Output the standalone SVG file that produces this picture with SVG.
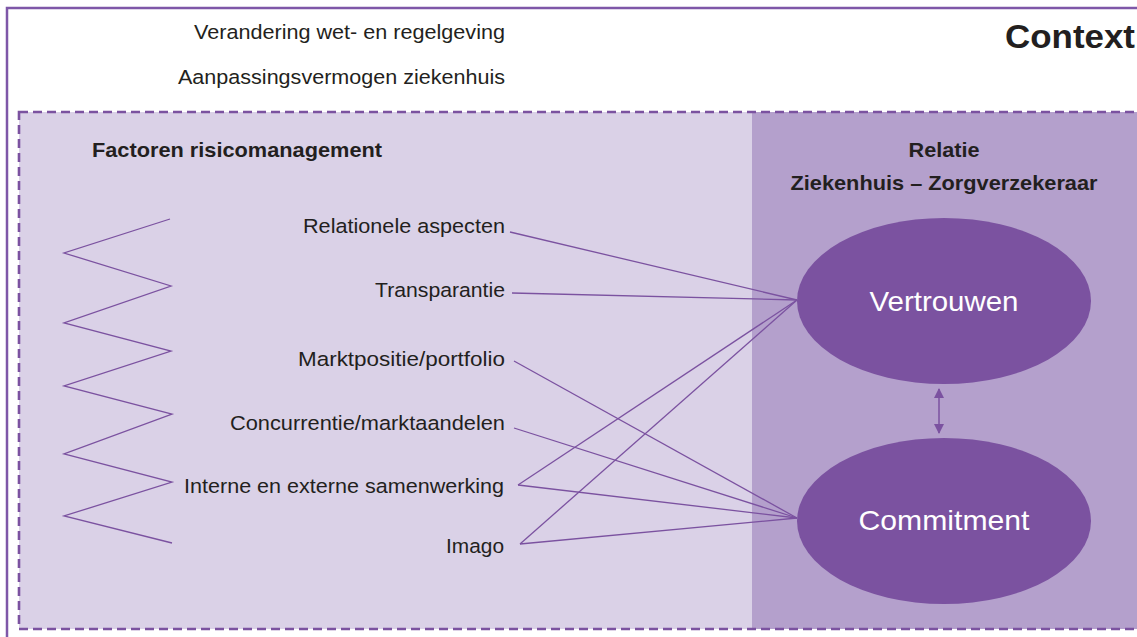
<svg xmlns="http://www.w3.org/2000/svg" width="1137" height="637" viewBox="0 0 1137 637">
<style>
.lbl{font-family:"Liberation Sans",Arial,sans-serif;font-size:20.5px;fill:#231f20}
.b{font-weight:bold}
.ell{fill:#7b52a0}
.et{font-family:"Liberation Sans",Arial,sans-serif;font-size:28px;fill:#ffffff;text-anchor:middle}
.con{stroke:#7b52a0;stroke-width:1.3;fill:none}
</style>
<defs>
<marker id="ah" viewBox="0 0 10 10" refX="9" refY="5" markerWidth="10" markerHeight="11" markerUnits="userSpaceOnUse" orient="auto-start-reverse">
<path d="M0,0 L10,5 L0,10 z" fill="#7b52a0"/>
</marker>
</defs>
<rect x="0" y="0" width="1137" height="637" fill="#ffffff"/>
<g id="context">
<rect x="7" y="8" width="1160" height="660" fill="none" stroke="#7e57a8" stroke-width="2.5"/>
<text class="lbl b" x="1135" y="48" text-anchor="end" style="font-size:33px" textLength="130" lengthAdjust="spacingAndGlyphs">Context</text>
<text class="lbl" x="505" y="39" text-anchor="end" textLength="311" lengthAdjust="spacingAndGlyphs">Verandering wet- en regelgeving</text>
<text class="lbl" x="505" y="84" text-anchor="end" textLength="327" lengthAdjust="spacingAndGlyphs">Aanpassingsvermogen ziekenhuis</text>
</g>
<g id="factoren">
<rect x="19" y="112" width="733" height="517" fill="#dad1e7"/>
<text class="lbl b" x="92" y="157" textLength="290" lengthAdjust="spacingAndGlyphs">Factoren risicomanagement</text>
<polyline class="con" points="170,219 64,253 171,286 64,323 171,351 64,386 172,414 64,454 172,482 64,516 172,543"/>
<text class="lbl" x="505" y="233" text-anchor="end" textLength="202" lengthAdjust="spacingAndGlyphs">Relationele aspecten</text>
<text class="lbl" x="505" y="297" text-anchor="end" textLength="130" lengthAdjust="spacingAndGlyphs">Transparantie</text>
<text class="lbl" x="505" y="366" text-anchor="end" textLength="207" lengthAdjust="spacingAndGlyphs">Marktpositie/portfolio</text>
<text class="lbl" x="505" y="430" text-anchor="end" textLength="275" lengthAdjust="spacingAndGlyphs">Concurrentie/marktaandelen</text>
<text class="lbl" x="504" y="493" text-anchor="end" textLength="320" lengthAdjust="spacingAndGlyphs">Interne en externe samenwerking</text>
<text class="lbl" x="504" y="553" text-anchor="end" textLength="58" lengthAdjust="spacingAndGlyphs">Imago</text>
</g>
<g id="relatie">
<rect x="752" y="112" width="400" height="517" fill="#b4a0cc"/>
<text class="lbl b" x="944" y="157" text-anchor="middle" textLength="71" lengthAdjust="spacingAndGlyphs">Relatie</text>
<text class="lbl b" x="944" y="190" text-anchor="middle" textLength="307" lengthAdjust="spacingAndGlyphs">Ziekenhuis – Zorgverzekeraar</text>
</g>
<rect x="19" y="112" width="1160" height="517" fill="none" stroke="#7b52a0" stroke-width="2.6" stroke-dasharray="9,5"/>
<g id="vertrouwen">
<ellipse class="ell" cx="944" cy="301" rx="147" ry="83"/>
<text class="et" x="944" y="311" textLength="149" lengthAdjust="spacingAndGlyphs">Vertrouwen</text>
</g>
<g id="commitment">
<ellipse class="ell" cx="944" cy="521" rx="147" ry="83"/>
<text class="et" x="944" y="530" textLength="171" lengthAdjust="spacingAndGlyphs">Commitment</text>
</g>
<g id="connectors">
<line class="con" x1="510" y1="232" x2="797" y2="300"/>
<line class="con" x1="512" y1="293" x2="797" y2="300"/>
<line class="con" x1="514" y1="361" x2="797" y2="518"/>
<line class="con" x1="514" y1="428" x2="797" y2="518"/>
<line class="con" x1="518" y1="485" x2="797" y2="300"/>
<line class="con" x1="518" y1="485" x2="797" y2="518"/>
<line class="con" x1="520" y1="544" x2="797" y2="300"/>
<line class="con" x1="520" y1="544" x2="797" y2="518"/>
<line x1="939" y1="389" x2="939" y2="433" stroke="#7b52a0" stroke-width="1.5" marker-start="url(#ah)" marker-end="url(#ah)"/>
</g>
</svg>
